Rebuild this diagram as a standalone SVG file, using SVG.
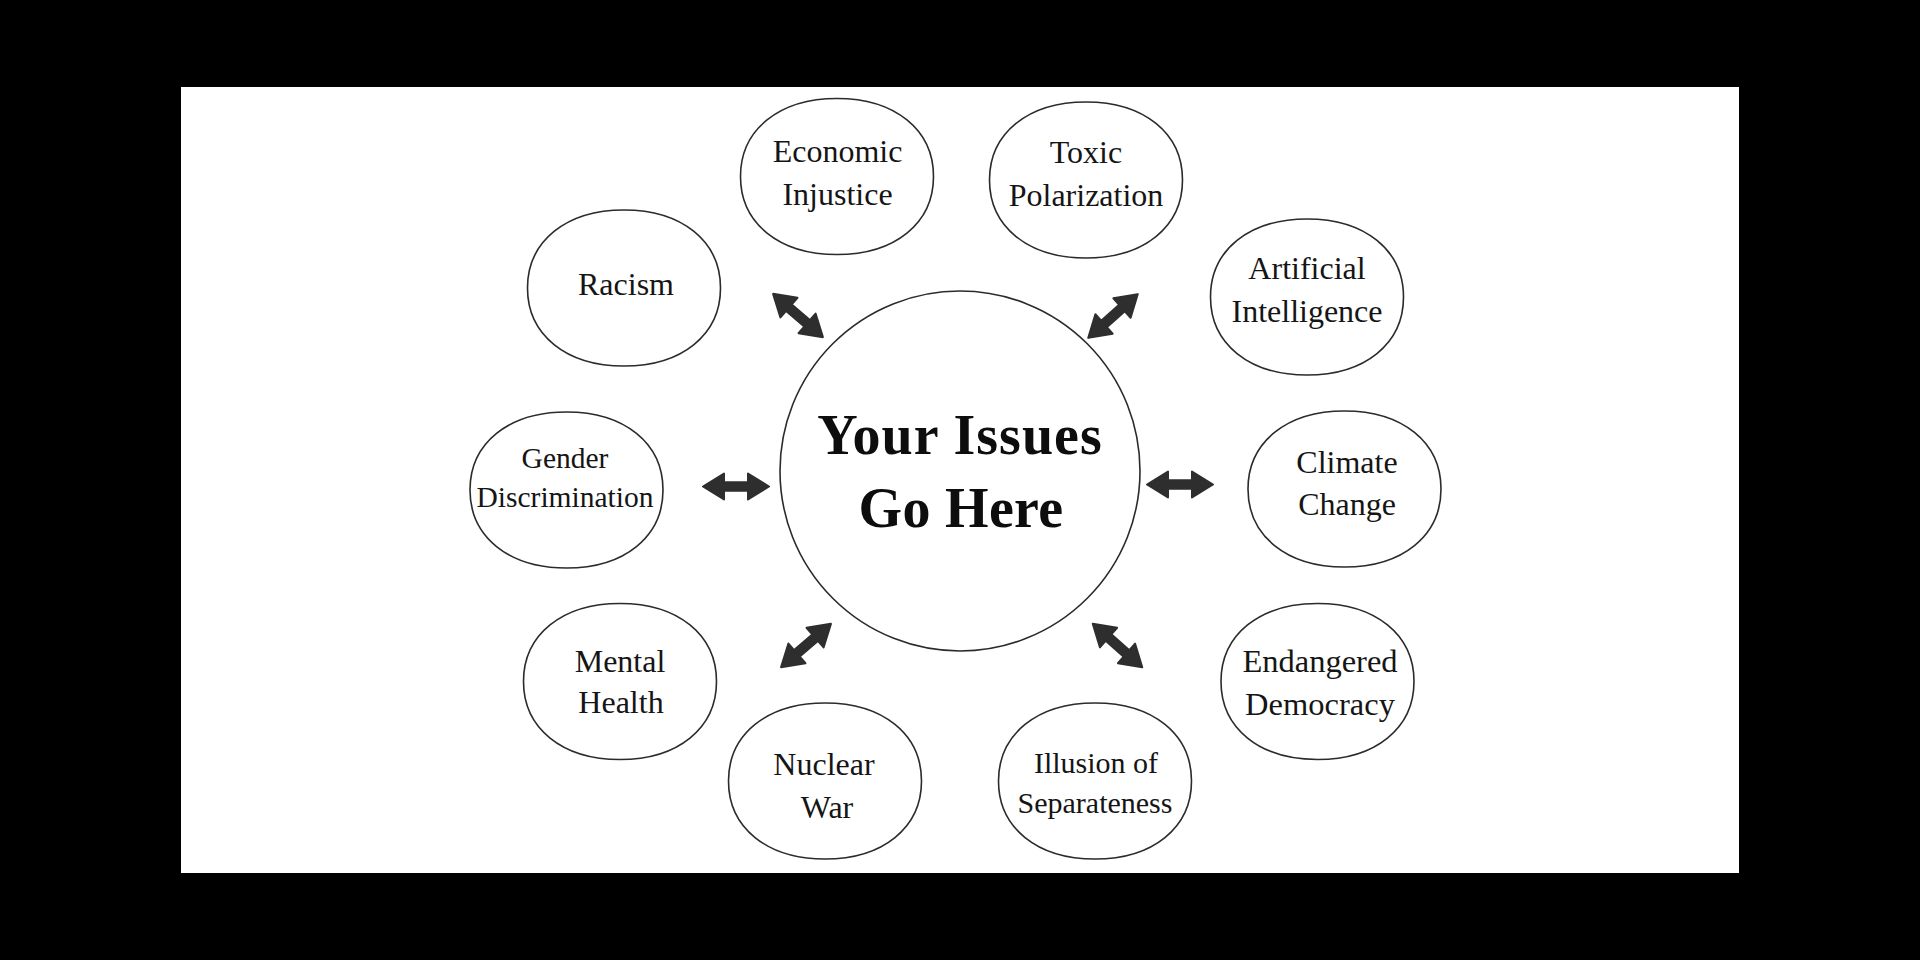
<svg xmlns="http://www.w3.org/2000/svg" xmlns:xlink="http://www.w3.org/1999/xlink" width="1920" height="960" viewBox="0 0 1920 960">
  <style>
    .shape { fill: #ffffff; stroke: #2b2b2b; stroke-width: 1.6; }
    .lbl { font-family: "Liberation Serif", "Times New Roman", serif; font-size: 32px; fill: #151515; text-anchor: middle; }
    .title { font-family: "Liberation Serif", "Times New Roman", serif; font-size: 56px; font-weight: bold; fill: #0d0d0d; text-anchor: middle; }
    .arrow { fill: #2e2e2e; stroke: #2e2e2e; stroke-width: 2; stroke-linejoin: round; }
  </style>
  <defs>
    <path id="blob" d="M -96.5,0 C -96.5,-46.8 -57.9,-78 0,-78 C 57.9,-78 96.5,-46.8 96.5,0 C 96.5,46.8 57.9,78 0,78 C -57.9,78 -96.5,46.8 -96.5,0 Z"/>
    <path id="arr" d="M -33,0 L -12,-13 L -12,-4.3 L 12,-4.3 L 12,-13 L 33,0 L 12,13 L 12,4.3 L -12,4.3 L -12,13 Z"/>
  </defs>

  <rect x="0" y="0" width="1920" height="960" fill="#000000"/>
  <rect x="181" y="87" width="1558" height="786" fill="#ffffff"/>

  <g id="connectors">
    <use href="#arr" class="arrow" transform="translate(736,486.5)"/>
    <use href="#arr" class="arrow" transform="translate(1180,484.5)"/>
    <use href="#arr" class="arrow" transform="translate(798,315.5) rotate(41)"/>
    <use href="#arr" class="arrow" transform="translate(1113,316) rotate(-41.5)"/>
    <use href="#arr" class="arrow" transform="translate(806,645.5) rotate(-41)"/>
    <use href="#arr" class="arrow" transform="translate(1117.5,645.5) rotate(41.4)"/>
  </g>

  <g id="center">
    <circle class="shape" cx="960" cy="471" r="180"/>
    <text class="title" x="960" y="454" letter-spacing="1">Your Issues</text>
    <text class="title" x="961" y="527" letter-spacing="0.3">Go Here</text>
  </g>

  <g id="racism">
    <use href="#blob" class="shape" transform="translate(624,288)"/>
    <text class="lbl" x="626" y="295">Racism</text>
  </g>

  <g id="economic-injustice">
    <use href="#blob" class="shape" transform="translate(837,176.5)"/>
    <text class="lbl" x="837.5" y="162">Economic</text>
    <text class="lbl" x="837.5" y="205">Injustice</text>
  </g>

  <g id="toxic-polarization">
    <use href="#blob" class="shape" transform="translate(1086,180)"/>
    <text class="lbl" x="1086" y="163">Toxic</text>
    <text class="lbl" x="1086" y="206">Polarization</text>
  </g>

  <g id="artificial-intelligence">
    <use href="#blob" class="shape" transform="translate(1307,297)"/>
    <text class="lbl" x="1307" y="279">Artificial</text>
    <text class="lbl" x="1307" y="322">Intelligence</text>
  </g>

  <g id="gender-discrimination">
    <use href="#blob" class="shape" transform="translate(566.5,490)"/>
    <text class="lbl" x="565" y="468" style="font-size:29.5px">Gender</text>
    <text class="lbl" x="565" y="507" style="font-size:29.5px">Discrimination</text>
  </g>

  <g id="climate-change">
    <use href="#blob" class="shape" transform="translate(1344.5,489)"/>
    <text class="lbl" x="1347" y="473">Climate</text>
    <text class="lbl" x="1347" y="515">Change</text>
  </g>

  <g id="mental-health">
    <use href="#blob" class="shape" transform="translate(620,681.5)"/>
    <text class="lbl" x="620" y="672">Mental</text>
    <text class="lbl" x="621" y="713">Health</text>
  </g>

  <g id="endangered-democracy">
    <use href="#blob" class="shape" transform="translate(1317.5,681.5)"/>
    <text class="lbl" x="1320" y="672" style="font-size:32.5px">Endangered</text>
    <text class="lbl" x="1320" y="715" style="font-size:32.5px">Democracy</text>
  </g>

  <g id="nuclear-war">
    <use href="#blob" class="shape" transform="translate(825,781)"/>
    <text class="lbl" x="824" y="775">Nuclear</text>
    <text class="lbl" x="827" y="818">War</text>
  </g>

  <g id="illusion-of-separateness">
    <use href="#blob" class="shape" transform="translate(1095,781)"/>
    <text class="lbl" x="1096" y="773" style="font-size:30px">Illusion of</text>
    <text class="lbl" x="1095" y="813" style="font-size:30px">Separateness</text>
  </g>
</svg>
